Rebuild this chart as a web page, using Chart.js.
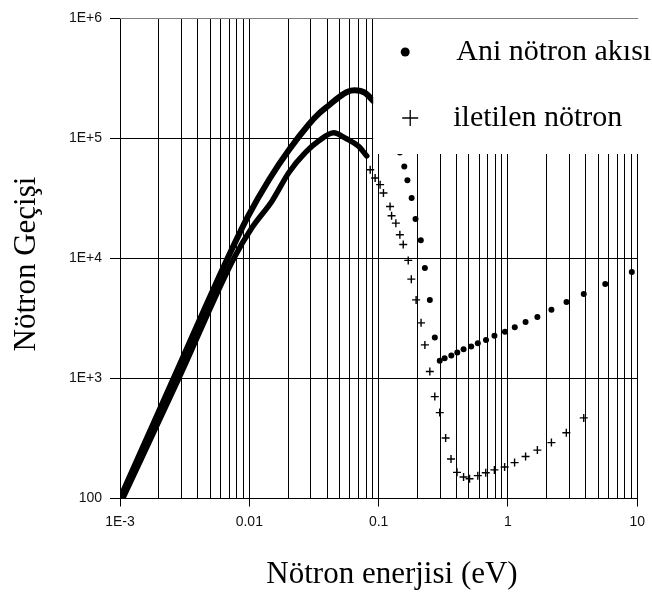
<!DOCTYPE html>
<html>

<head>
    <meta charset="utf-8">
    <title>notron_gecisi</title>
    <script src="https://cdn.jsdelivr.net/npm/chart.js"></script>
    <style>
        html, body {
            margin: 0;
            padding: 0;
            background: #fff;
        }
        #wrap {
            width: 652px;
            height: 596px;
            position: relative;
        }
    </style>
</head>

<body>
    <div id="wrap"><canvas id="chartCanvas"></canvas></div>
    <script>
        // Ani nötron akısı (dots) - dense low-energy part, then the separate points
        const aniCurveEnergy = [0.001, 0.0026, 0.0068, 0.0097, 0.0142, 0.0203, 0.0288, 0.0345, 0.0411, 0.049, 0.057, 0.065, 0.0787, 0.0912];
        const aniCurveFlux = [100, 1000, 10000, 22000, 45000, 80000, 130000, 160000, 187000, 218000, 242000, 250000, 238000, 203000];
        const aniPointEnergy = [0.146, 0.158, 0.167, 0.18, 0.193, 0.212, 0.228, 0.249, 0.272, 0.297, 0.324, 0.365, 0.406, 0.454, 0.52, 0.585, 0.677, 0.787, 0.949, 1.13, 1.37, 1.69, 2.17, 2.84, 3.86, 5.66, 9.08];
        const aniPointFlux = [76000, 58000, 44500, 31700, 21200, 14100, 8300, 4500, 2190, 1400, 1470, 1550, 1640, 1750, 1840, 1960, 2090, 2260, 2450, 2670, 2940, 3240, 3720, 4320, 5030, 6100, 7670];

        // iletilen nötron (+)
        const iletCurveEnergy = [0.00105, 0.00285, 0.0076, 0.0105, 0.015, 0.0203, 0.0272, 0.0345, 0.045, 0.0553, 0.07, 0.081];
        const iletCurveFlux = [100, 1000, 10000, 18000, 30000, 52000, 76000, 95000, 111000, 100000, 85500, 71000];
        const iletPointEnergy = [0.0861, 0.094, 0.1027, 0.109, 0.1226, 0.126, 0.136, 0.146, 0.155, 0.1695, 0.179, 0.195, 0.213, 0.228, 0.249, 0.272, 0.297, 0.33, 0.363, 0.404, 0.454, 0.505, 0.585, 0.674, 0.786, 0.943, 1.126, 1.37, 1.69, 2.17, 2.83, 3.86];
        const iletPointFlux = [54600, 46600, 41000, 34900, 27000, 22600, 19600, 15700, 13000, 9600, 6700, 4500, 2900, 1900, 1140, 705, 519, 319, 213, 165, 151, 146, 155, 164, 173, 183, 199, 224, 253, 292, 353, 469];

        const seriesLabels = ['Ani nötron akısı', 'iletilen nötron'];
        const xTitle = 'Nötron enerjisi (eV)';
        const yTitle = 'Nötron Geçişi';
        const xDecades = [0.001, 0.01, 0.1, 1, 10];
        const xTickLabels = ['1E-3', '0.01', '0.1', '1', '10'];
        const yDecades = [100, 1000, 10000, 100000, 1000000];
        const yTickLabels = ['100', '1E+3', '1E+4', '1E+5', '1E+6'];

        const serif = '"Liberation Serif", "Times New Roman", serif';

        function pairs(xs, ys) {
            return xs.map((x, i) => ({ x: x, y: ys[i] }));
        }

        function decadeIndex(list, v) {
            return list.findIndex(d => Math.abs(d - v) / d < 1e-6);
        }

        // 1..9 x 10^n gridlines between the decades
        const xGridValues = [];
        xDecades.forEach((d, i) => {
            if (i === xDecades.length - 1) {
                xGridValues.push(d);
                return;
            }
            for (let k = 1; k <= 9; k++) xGridValues.push(Number((d * k).toPrecision(6)));
        });

        const overlay = {
            id: 'overlay',
            afterDatasetsDraw(chart) {
                const { ctx, chartArea } = chart;
                const boxLeft = chartArea.right - 264;
                const top = chartArea.top;
                ctx.save();
                ctx.fillStyle = '#fff';
                ctx.fillRect(boxLeft, top + 1, chartArea.right + 6 - boxLeft, 135);

                ctx.fillStyle = '#000';
                ctx.beginPath();
                ctx.arc(boxLeft + 32, top + 34, 4.5, 0, Math.PI * 2);
                ctx.fill();

                ctx.strokeStyle = '#000';
                ctx.lineWidth = 1.3;
                ctx.beginPath();
                ctx.moveTo(boxLeft + 29, top + 100);
                ctx.lineTo(boxLeft + 45, top + 100);
                ctx.moveTo(boxLeft + 37, top + 92);
                ctx.lineTo(boxLeft + 37, top + 108);
                ctx.stroke();

                ctx.font = '30px ' + serif;
                ctx.textBaseline = 'alphabetic';
                ctx.textAlign = 'left';
                ctx.fillText(seriesLabels[0], boxLeft + 83, top + 42);
                ctx.fillText(seriesLabels[1], boxLeft + 80, top + 108);

                // gray top frame line
                ctx.strokeStyle = '#808080';
                ctx.lineWidth = 1;
                ctx.beginPath();
                ctx.moveTo(chartArea.left, top + 0.5);
                ctx.lineTo(chartArea.right + 1, top + 0.5);
                ctx.stroke();
                ctx.restore();
            },
            afterDraw(chart) {
                const { ctx } = chart;
                ctx.save();
                ctx.fillStyle = '#000';
                ctx.font = '31px ' + serif;
                ctx.textAlign = 'center';
                ctx.textBaseline = 'alphabetic';
                ctx.fillText(xTitle, 392, 583);
                ctx.translate(35, 264);
                ctx.rotate(-Math.PI / 2);
                ctx.fillText(yTitle, 0, 0);
                ctx.restore();
            }
        };

        const tickFont = { family: '"Liberation Sans", Arial, sans-serif', size: 14 };

        new Chart(document.getElementById('chartCanvas'), {
            type: 'scatter',
            data: {
                datasets: [
                    {
                        label: seriesLabels[0],
                        data: pairs(aniCurveEnergy, aniCurveFlux),
                        showLine: true,
                        borderColor: '#000',
                        borderWidth: 6,
                        borderCapStyle: 'round',
                        borderJoinStyle: 'round',
                        cubicInterpolationMode: 'monotone',
                        pointRadius: 0
                    },
                    {
                        label: seriesLabels[1],
                        data: pairs(iletCurveEnergy, iletCurveFlux),
                        showLine: true,
                        borderColor: '#000',
                        borderWidth: 5.5,
                        borderCapStyle: 'round',
                        borderJoinStyle: 'round',
                        cubicInterpolationMode: 'monotone',
                        pointRadius: 0
                    },
                    {
                        label: seriesLabels[0],
                        data: pairs(aniPointEnergy, aniPointFlux),
                        pointStyle: 'circle',
                        pointRadius: 3,
                        backgroundColor: '#000',
                        borderColor: '#000',
                        borderWidth: 0
                    },
                    {
                        label: seriesLabels[1],
                        data: pairs(iletPointEnergy, iletPointFlux),
                        pointStyle: 'cross',
                        pointRadius: 4,
                        borderColor: '#000',
                        borderWidth: 1.4
                    }
                ]
            },
            options: {
                responsive: true,
                maintainAspectRatio: false,
                animation: false,
                events: [],
                layout: { padding: { top: 18, right: 11, bottom: 0, left: 0 } },
                plugins: {
                    legend: { display: false },
                    tooltip: { enabled: false }
                },
                scales: {
                    x: {
                        type: 'logarithmic',
                        min: 0.001,
                        max: 10,
                        afterBuildTicks: (scale) => {
                            scale.ticks = xGridValues.map(v => ({ value: v }));
                        },
                        afterFit: (scale) => {
                            scale.height = 97.5;
                        },
                        ticks: {
                            autoSkip: false,
                            maxRotation: 0,
                            padding: 7,
                            color: '#111',
                            font: tickFont,
                            callback: (value) => {
                                const i = decadeIndex(xDecades, value);
                                return i >= 0 ? xTickLabels[i] : '';
                            }
                        },
                        grid: {
                            color: '#000',
                            lineWidth: 1,
                            tickLength: 8,
                            tickColor: (ctx) => (ctx.tick && decadeIndex(xDecades, ctx.tick.value) >= 0 ? '#000' : 'rgba(0,0,0,0)')
                        },
                        border: { display: true, color: '#000', width: 1 }
                    },
                    y: {
                        type: 'logarithmic',
                        min: 100,
                        max: 1000000,
                        afterBuildTicks: (scale) => {
                            scale.ticks = yDecades.map(v => ({ value: v }));
                        },
                        afterFit: (scale) => {
                            scale.width = 120;
                        },
                        ticks: {
                            autoSkip: false,
                            padding: 8,
                            color: '#111',
                            font: tickFont,
                            callback: (value) => {
                                const i = decadeIndex(yDecades, value);
                                return i >= 0 ? yTickLabels[i] : '';
                            }
                        },
                        grid: {
                            color: '#000',
                            lineWidth: 1,
                            tickLength: 10
                        },
                        border: { display: true, color: '#000', width: 1 }
                    }
                }
            },
            plugins: [overlay]
        });
    </script>
</body>

</html>
